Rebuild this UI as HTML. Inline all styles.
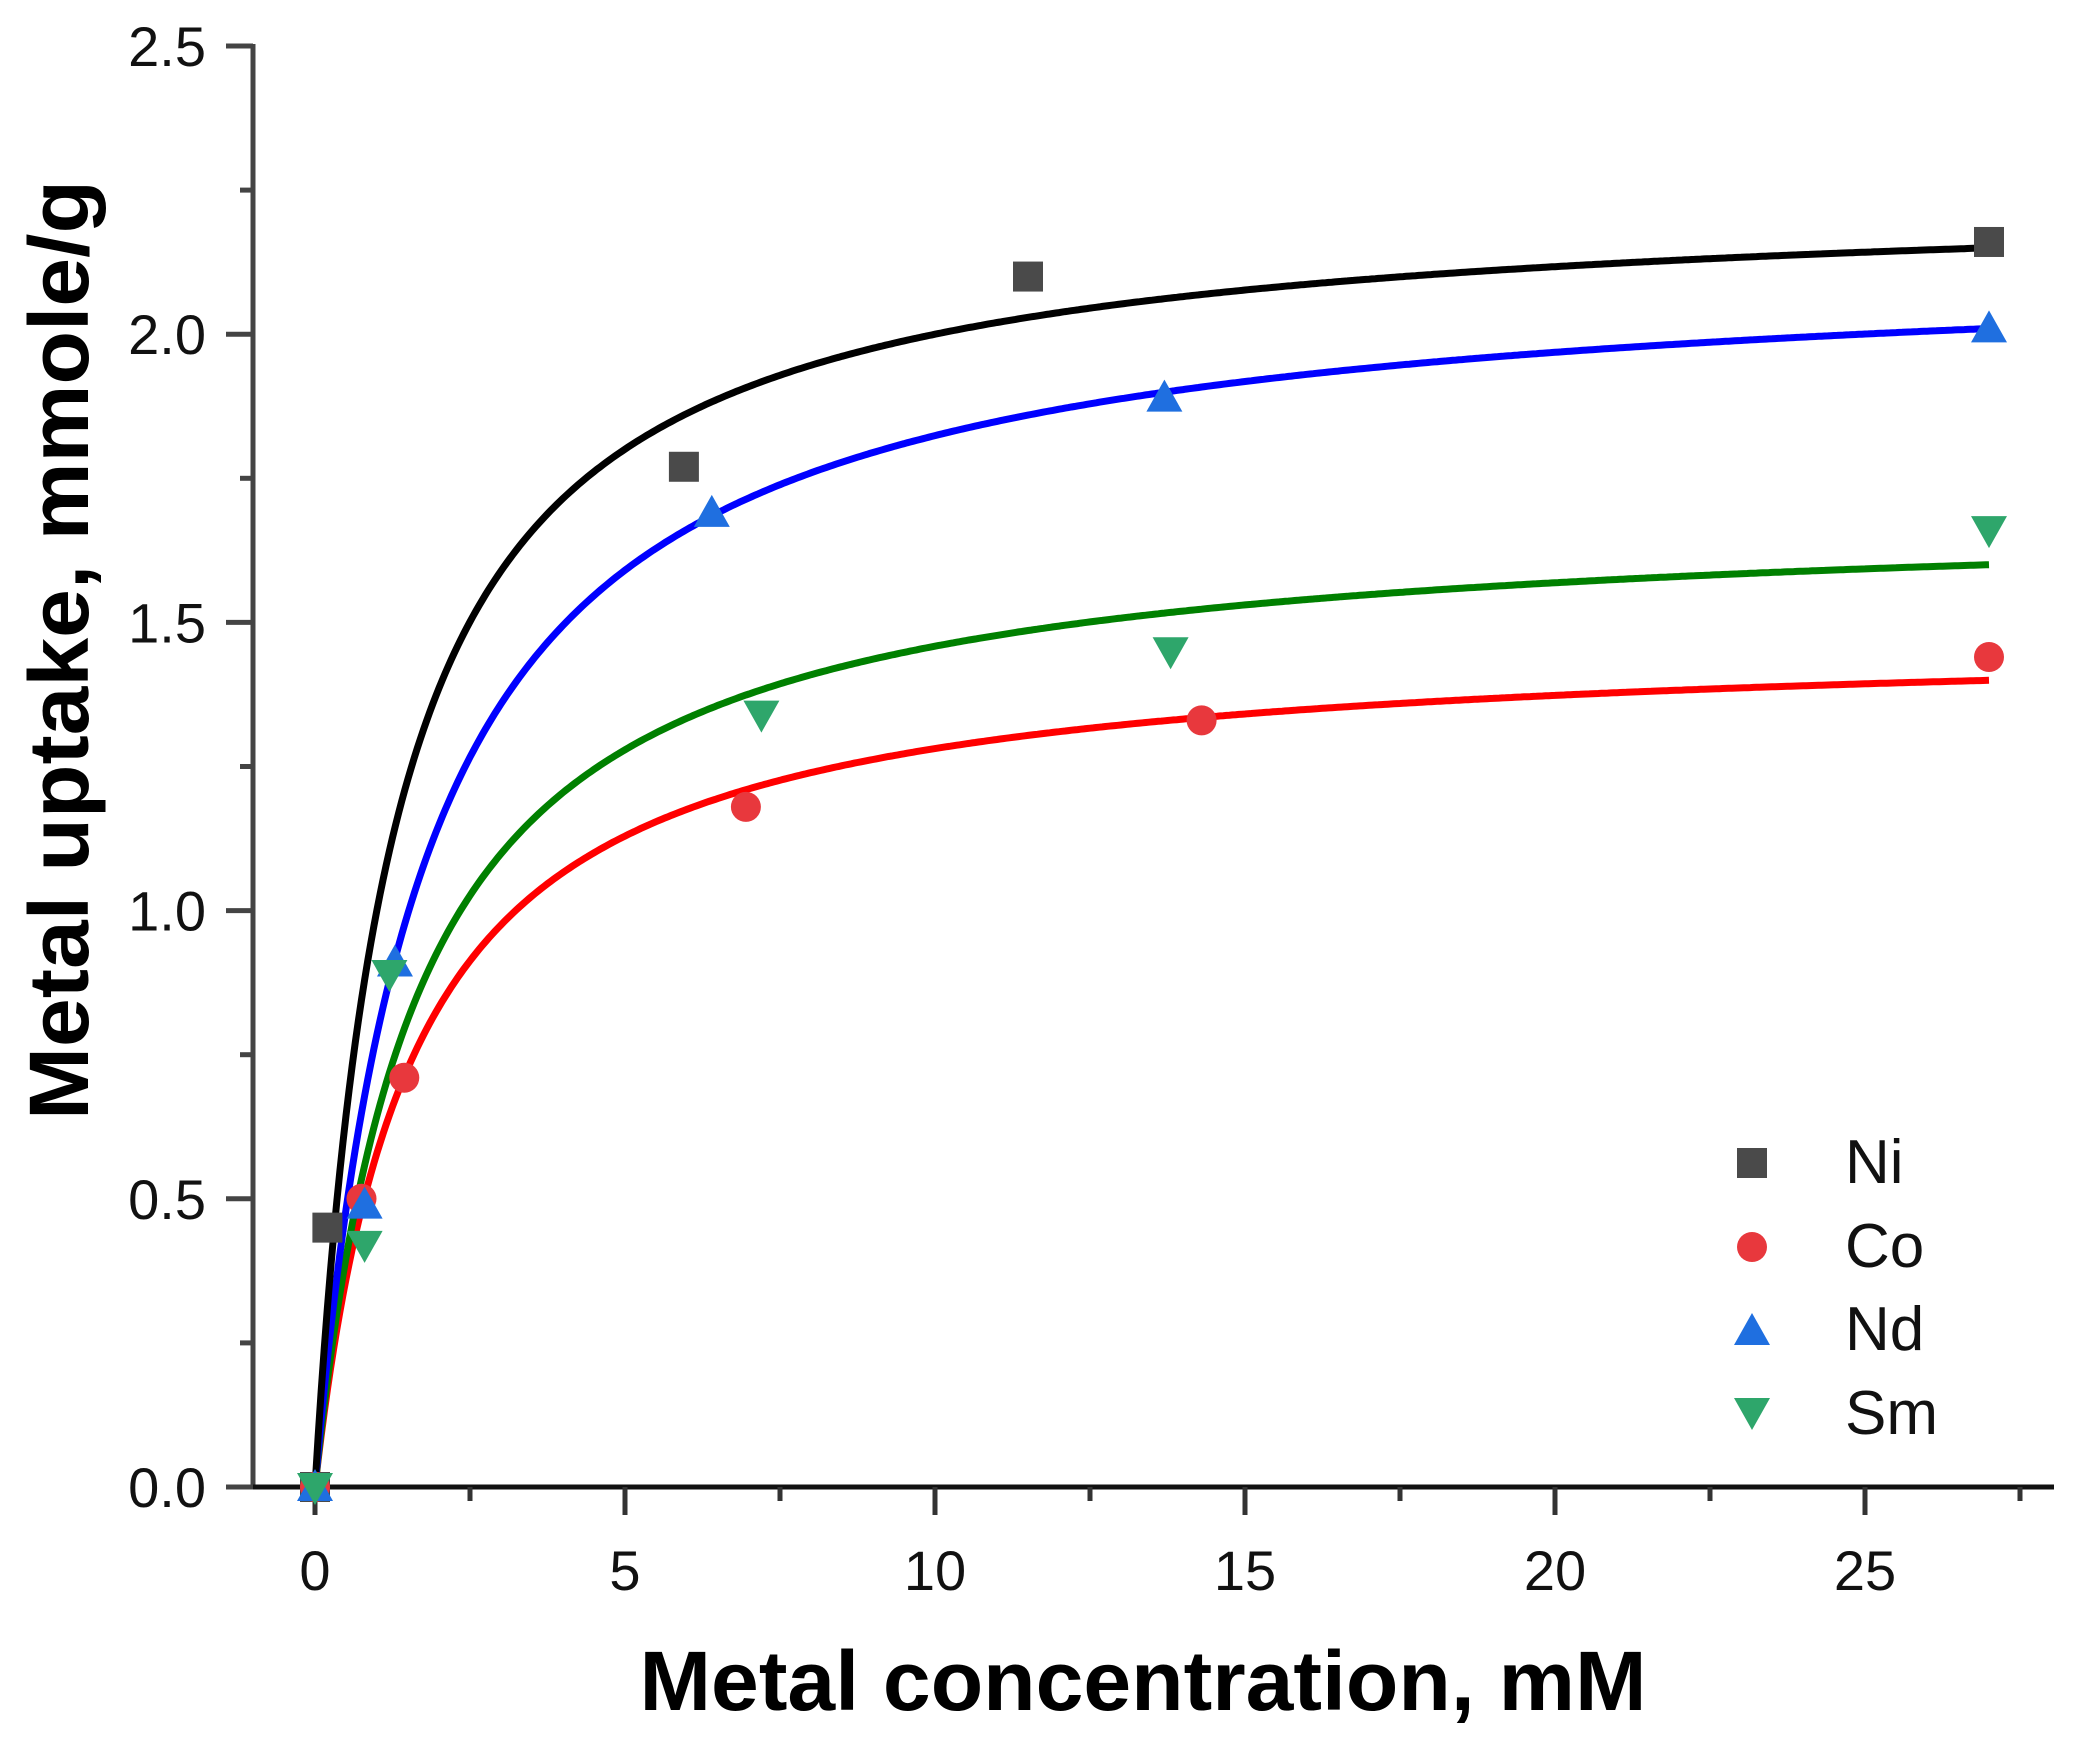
<!DOCTYPE html>
<html><head><meta charset="utf-8"><style>
html,body{margin:0;padding:0;background:#fff;}
svg{display:block;}
text{font-family:"Liberation Sans",Arial,sans-serif;}
</style></head><body>
<svg id="s" width="2073" height="1743" viewBox="0 0 2073 1743" xmlns="http://www.w3.org/2000/svg">
<rect width="2073" height="1743" fill="#fff"/>
<g id="axes" stroke="#333" stroke-width="5" fill="none"></g>
<g id="curves" fill="none" stroke-width="7"></g>
<g id="marks"></g>
<g id="labels" font-size="56" fill="#111"></g>
<text x="1143" y="1710" font-size="84" font-weight="bold" text-anchor="middle" textLength="1007" lengthAdjust="spacingAndGlyphs">Metal concentration, mM</text>
<text transform="translate(88,650) rotate(-90)" font-size="84" font-weight="bold" text-anchor="middle" textLength="940" lengthAdjust="spacingAndGlyphs">Metal uptake, mmole/g</text>
<g font-size="62" fill="#111">
<text x="1845" y="1183">Ni</text>
<text x="1845" y="1267">Co</text>
<text x="1845" y="1350">Nd</text>
<text x="1845" y="1434">Sm</text>
</g>
</svg>
<script>
var NS="http://www.w3.org/2000/svg";
function X(v){return 315+v*62;}
function Y(v){return 1487-v*576.4;}
function el(p,tag,a){var e=document.createElementNS(NS,tag);for(var k in a)e.setAttribute(k,a[k]);p.appendChild(e);return e;}
var ax=document.getElementById('axes'),lb=document.getElementById('labels');
el(ax,'line',{x1:253,y1:44,x2:253,y2:1489,stroke:'#444'});
el(ax,'line',{x1:228,y1:1487,x2:2054,y2:1487,stroke:'#111'});
for(var i=0;i<=10;i++){var v=i*0.25,y=Y(v),maj=i%2==0;
 el(ax,'line',{x1:maj?226:240,y1:y,x2:253,y2:y,stroke:'#444'});
 if(maj){var t=el(lb,'text',{x:206,y:y+20,'text-anchor':'end'});t.textContent=v.toFixed(1);}}
for(var i=0;i<=11;i++){var v=i*2.5,x=X(v),maj=i%2==0;
 el(ax,'line',{x1:x,y1:1487,x2:x,y2:maj?1515:1501,stroke:'#333'});
 if(maj){var t=el(lb,'text',{x:x,y:1590,'text-anchor':'middle'});t.textContent=v;}}
var cv=document.getElementById('curves');
function curve(q,K,c){var d='';for(var i=0;i<=540;i++){var x=i*0.05;var y=q*K*x/(1+K*x);d+=(i?'L':'M')+X(x).toFixed(1)+','+Y(y).toFixed(1);}el(cv,'path',{d:d,stroke:c});}
curve(1.48,0.644,'#ff0000');
curve(1.697,0.612,'#008000');
curve(2.138,0.581,'#0000ff');
curve(2.249,0.803,'#000000');
var mk=document.getElementById('marks');
function sq(x,y){el(mk,'rect',{x:x-15,y:y-15,width:30,height:30,fill:'#4a4a4a'});}
function ci(x,y){el(mk,'circle',{cx:x,cy:y,r:15,fill:'#e8383d'});}
function up(x,y){el(mk,'polygon',{points:(x-18)+','+(y+14)+' '+(x+18)+','+(y+14)+' '+x+','+(y-18),fill:'#1f6fe0'});}
function dn(x,y){el(mk,'polygon',{points:(x-18)+','+(y-14)+' '+(x+18)+','+(y-14)+' '+x+','+(y+18),fill:'#2ea66b'});}
var ni=[[0,0],[0.2,0.45],[5.95,1.77],[11.5,2.10],[27,2.16]];
var co=[[0,0],[0.75,0.5],[1.44,0.71],[6.95,1.18],[14.3,1.33],[27,1.44]];
var nd=[[0,0],[0.8,0.49],[1.29,0.91],[6.4,1.69],[13.7,1.89],[27,2.01]];
var sm=[[0,0],[0.8,0.42],[1.2,0.89],[7.2,1.34],[13.8,1.45],[27,1.66]];
ni.forEach(function(p){sq(X(p[0]),Y(p[1]));});
co.forEach(function(p){ci(X(p[0]),Y(p[1]));});
nd.forEach(function(p){up(X(p[0]),Y(p[1]));});
sm.forEach(function(p){dn(X(p[0]),Y(p[1]));});
sq(1752,1163);ci(1752,1247);up(1752,1331);dn(1752,1412);
</script>
</body></html>
